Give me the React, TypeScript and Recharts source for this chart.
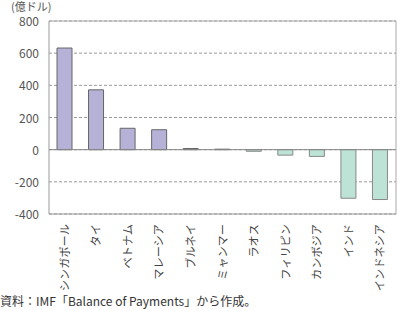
import { Bar, BarChart, CartesianGrid, Cell, ReferenceLine, XAxis, YAxis } from "recharts";

const countries = [
  "シンガポール",
  "タイ",
  "ベトナム",
  "マレーシア",
  "ブルネイ",
  "ミャンマー",
  "ラオス",
  "フィリピン",
  "カンボジア",
  "インド",
  "インドネシア",
];
const balance = [632, 372, 133, 124, 7, 3, -10, -34, -42, -302, -310];
const yTicks = [-400, -200, 0, 200, 400, 600, 800];

const data = countries.map((name, i) => ({ name, value: balance[i] }));

const FONT = "'Noto Sans CJK JP', 'Noto Sans', sans-serif";

function CountryTick({ x, y, payload }: any) {
  return (
    <g transform={`translate(${x},${y})`}>
      <text
        transform="rotate(-90)"
        textAnchor="end"
        x={-2}
        dy={4}
        fontSize={11.2}
        fill="#444"
        fontFamily={FONT}
      >
        {payload.value}
      </text>
    </g>
  );
}

function ValueTick({ x, y, payload }: any) {
  return (
    <text x={x} y={y} dy={5} textAnchor="end" fontSize={12} fill="#555" fontFamily={FONT}>
      {payload.value}
    </text>
  );
}

export default function App() {
  return (
    <div style={{ position: "absolute", left: 0, top: 0, width: 397, height: 311, fontFamily: FONT }}>
      <BarChart
        width={397}
        height={311}
        data={data}
        margin={{ top: 21, right: 0, left: 0, bottom: 0 }}
      >
        <CartesianGrid vertical={false} stroke="#999" strokeDasharray="3 2" yAxisId="left" />
        <XAxis
          dataKey="name"
          interval={0}
          tickLine={false}
          axisLine={{ stroke: "#999" }}
          tick={<CountryTick />}
          height={97}
        />
        <YAxis
          yAxisId="left"
          width={49}
          domain={[-400, 800]}
          ticks={yTicks}
          interval={0}
          tickLine={false}
          axisLine={{ stroke: "#999" }}
          tick={<ValueTick />}
          tickMargin={4}
        />
        <YAxis
          yAxisId="right"
          orientation="right"
          width={1}
          domain={[-400, 800]}
          ticks={yTicks}
          tick={false}
          tickLine={false}
          axisLine={{ stroke: "#aaa" }}
        />
        <ReferenceLine yAxisId="left" y={800} stroke="#aaa" />
        <ReferenceLine yAxisId="left" y={0} stroke="#888" />
        <Bar yAxisId="left" dataKey="value" barSize={15} isAnimationActive={false}>
          {data.map((d) => (
            <Cell
              key={d.name}
              fill={d.value >= 0 ? "#b6b2d7" : "#bde2d6"}
              stroke={d.value >= 0 ? "#666" : "#888"}
              strokeWidth={1}
            />
          ))}
        </Bar>
      </BarChart>
      <div
        style={{
          position: "absolute",
          left: 11,
          top: 1,
          fontSize: 11,
          color: "#555",
          lineHeight: "11px",
        }}
      >
        (億ドル)
      </div>
      <div
        style={{
          position: "absolute",
          left: 0,
          top: 294,
          fontSize: 12,
          color: "#333",
          lineHeight: "14px",
          whiteSpace: "nowrap",
        }}
      >
        資料：IMF「Balance of Payments」から作成。
      </div>
    </div>
  );
}
